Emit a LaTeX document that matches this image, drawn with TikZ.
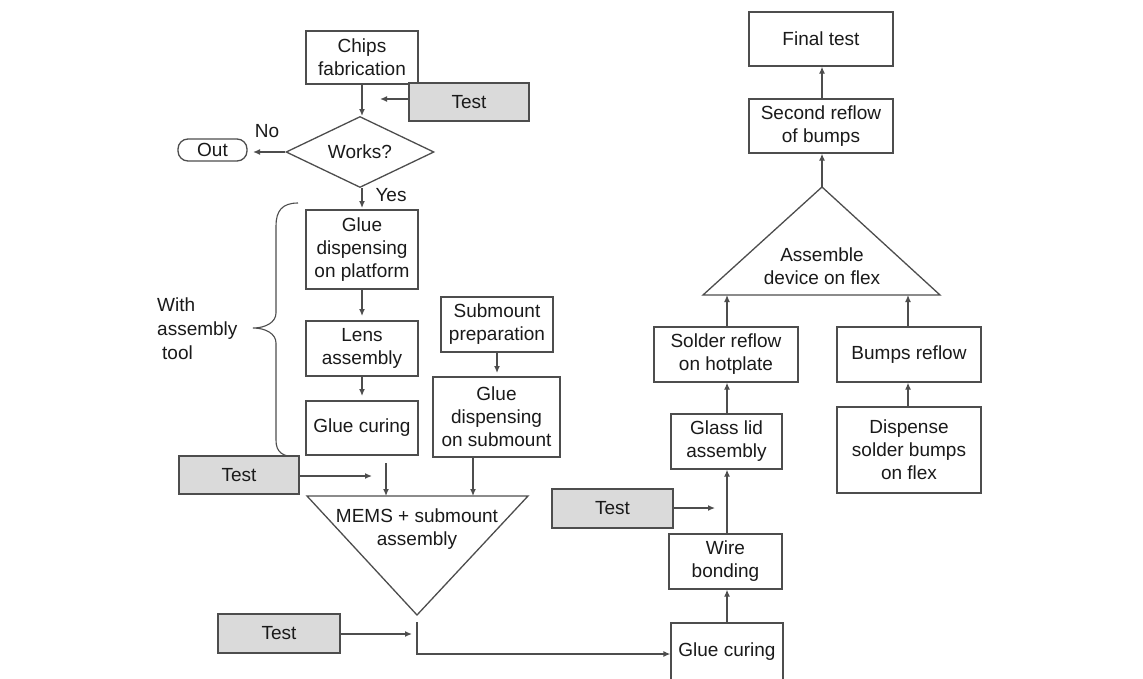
\documentclass[tikz,border=0pt]{standalone}
\usepackage{fontspec}
\setmainfont{Liberation Sans}
\usetikzlibrary{arrows.meta,shapes.geometric}
\definecolor{linegray}{HTML}{4D4D4D}
\definecolor{textcol}{HTML}{1A1A1A}
\definecolor{testfill}{HTML}{DADADA}
\begin{document}
\begin{tikzpicture}[x=1pt,y=-1pt,
  lc/.style={draw=linegray, line width=1.3pt},
  arr/.style={lc, -{Latex[length=7pt,width=6pt]}},
  txt/.style={align=center, inner sep=0pt, text=textcol, font=\fontsize{19}{23}\selectfont},
  box/.style={txt, lc, rectangle},
  testbox/.style={box, fill=testfill, minimum height=38pt},
]
\useasboundingbox (0,0) rectangle (1143,678);
\fill[white] (0,0) rectangle (1143,678);

% left column
\node[box, minimum width=112pt, minimum height=53pt] (chips) at (362,57.5) {Chips\\fabrication};
\node[testbox, minimum width=120pt] (test1) at (469,102) {Test};
\node[txt, lc, diamond, minimum width=148pt, minimum height=71pt, aspect=2] (works) at (360,152) {Works?};
\node[box, rounded corners=10pt, minimum width=69pt, minimum height=22pt] (out) at (212.5,150) {Out};
\node[txt] (no) at (267,131) {No};
\node[txt] (yes) at (391,195) {Yes};

\coordinate (t1end) at (380,99);
\coordinate (outend) at (253,152);
\coordinate (yesend) at (362,208);
\draw[arr] (chips.south) -- (362,116);
\draw[arr] (test1.west |- t1end) -- (t1end);
\draw[arr] (works.west) -- (outend);
\draw[arr] (works.south -| yesend) -- (yesend);

\node[box, minimum width=112pt, minimum height=79pt] (glue1) at (362,249.5) {Glue\\dispensing\\on platform};
\node[box, minimum width=112pt, minimum height=55pt] (lens) at (362,348.5) {Lens\\assembly};
\node[box, minimum width=112pt, minimum height=54pt] (gcure1) at (362,428) {Glue curing};
\coordinate (l1) at (362,316);
\coordinate (l2) at (362,396);
\draw[arr] (glue1.south) -- (l1);
\draw[arr] (lens.south) -- (l2);

\node[box, minimum width=112pt, minimum height=55pt] (subprep) at (497,324.5) {Submount\\preparation};
\node[box, minimum width=127pt, minimum height=80pt] (gdsub) at (496.5,417) {Glue\\dispensing\\on submount};
\coordinate (s1) at (497,373);
\draw[arr] (subprep.south) -- (s1);

% brace
\draw[lc, line width=1.1pt] (298,203) .. controls (282,203) and (276,211) .. (276,226) -- (276,313)
  .. controls (276,322) and (266,328) .. (253,328)
  .. controls (266,328) and (276,334) .. (276,343) -- (276,440)
  .. controls (276,452) and (282,457) .. (298,457);
\node[txt, align=left, anchor=west, font=\fontsize{19}{24}\selectfont] (with) at (157,329) {With\\assembly\\\hspace{5pt}tool};

\node[testbox, minimum width=120pt] (test2) at (239,475) {Test};
\coordinate (t2end) at (372,476);
\draw[arr] (test2.east |- t2end) -- (t2end);

% MEMS triangle
\draw[lc] (307,496) -- (528,496) -- (417,615) -- cycle;
\node[txt] (mems) at (417,529) {MEMS + submount\\assembly};
\coordinate (m1) at (386,496);
\coordinate (m2) at (473,496);
\draw[arr] (386,463) -- (m1);
\draw[arr] (gdsub.south -| m2) -- (m2);

\node[testbox, minimum width=122pt, minimum height=39pt] (test3) at (279,633.5) {Test};
\coordinate (t3end) at (412,634);
\draw[arr] (test3.east |- t3end) -- (t3end);

% right column
\node[box, minimum width=112pt, minimum height=58pt] (gcure2) at (727,652) {Glue curing};
\draw[arr] (417,622) -- (417,654) -- (gcure2.west |- 0,654);

\node[box, minimum width=113pt, minimum height=55pt] (wire) at (725.5,561.5) {Wire\\bonding};
\node[box, minimum width=111pt, minimum height=55pt] (glass) at (726.5,441.5) {Glass lid\\assembly};
\node[testbox, minimum width=121pt, minimum height=39pt] (test4) at (612.5,508.5) {Test};
\node[box, minimum width=144pt, minimum height=55pt] (solder) at (726,354.5) {Solder reflow\\on hotplate};
\node[box, minimum width=144pt, minimum height=55pt] (bumps) at (909,354.5) {Bumps reflow};
\node[box, minimum width=144pt, minimum height=86pt] (disp) at (909,450) {Dispense\\solder bumps\\on flex};

\draw[arr] (gcure2.north -| 727,0) -- (wire.south -| 727,0);
\draw[arr] (wire.north -| 727,0) -- (glass.south -| 727,0);
\coordinate (t4end) at (715,508);
\draw[arr] (test4.east |- t4end) -- (t4end);
\draw[arr] (glass.north -| 727,0) -- (solder.south -| 727,0);
\draw[arr] (disp.north -| 908,0) -- (bumps.south -| 908,0);

% assemble triangle
\draw[lc] (703,295) -- (940,295) -- (822,187) -- cycle;
\node[txt] (asm) at (822,266) {Assemble\\device on flex};
\coordinate (apex) at (822,187);
\draw[arr] (solder.north -| 727,0) -- (727,295);
\draw[arr] (bumps.north -| 908,0) -- (908,295);

\node[box, minimum width=144pt, minimum height=54pt] (second) at (821,126) {Second reflow\\of bumps};
\node[box, minimum width=144pt, minimum height=54pt] (final) at (821,39) {Final test};
\draw[arr] (apex) -- (second.south -| apex);
\draw[arr] (second.north -| apex) -- (final.south -| apex);
\end{tikzpicture}
\end{document}
